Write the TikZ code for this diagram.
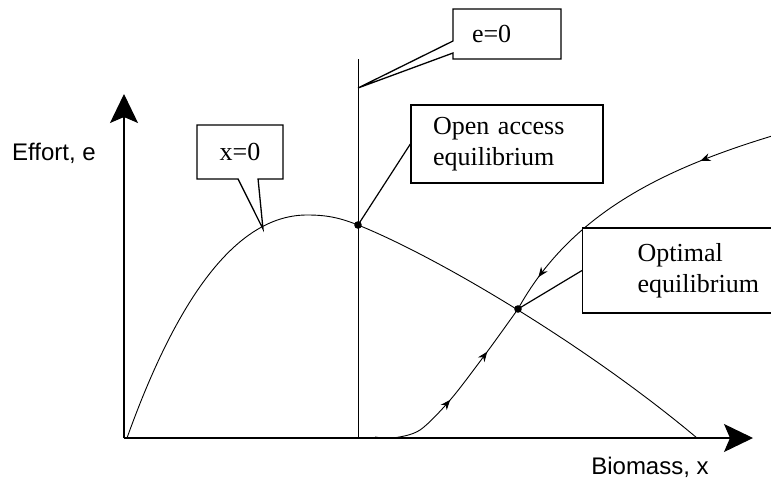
\documentclass[tikz,border=0pt]{standalone}
\usepackage{fontspec}
\setmainfont{Liberation Serif}
\setsansfont{Liberation Sans}
\usetikzlibrary{arrows.meta,shapes.callouts,decorations.markings}
\tikzset{
  axis/.style={line width=1.1pt,-{Stealth[length=29pt,width=28pt,inset=6pt]}},
  curve/.style={line width=0.9pt},
  lead/.style={line width=1.2pt},
  flowtip/.tip={Stealth[length=10pt,width=8pt]},
  flow/.style 2 args={postaction={decorate},decoration={markings,
    mark=at position #1 with {\arrow{flowtip}},
    mark=at position #2 with {\arrow{flowtip}}}},
  note/.style={draw,line width=1.3pt,fill=white,font=\fontsize{26}{31}\selectfont},
  callnote/.style={note,rectangle callout},
  axlabel/.style={font=\sffamily\fontsize{24}{28}\selectfont},
  dot/.style={fill=black},
}
\begin{document}
\begin{tikzpicture}[x=1pt,y=-1pt]
  \useasboundingbox (0,0) rectangle (771,479);
  \clip (0,0) rectangle (771,479);
  \coordinate (o) at (124,438);
  \coordinate (ytop) at (124,94);
  \coordinate (xend) at (753,438);
  \coordinate (etop) at (358,59);
  \coordinate (ebot) at (358,438);
  \coordinate (peak) at (307,215);
  \coordinate (open) at (358,225);
  \coordinate (opt) at (518,309);
  \coordinate (etip) at (358,88);
  \coordinate (xtip) at (263,229);
  % axes
  \draw[axis] (o) -- (ytop);
  \draw[axis] (o) -- (xend);
  \node[axlabel] (effort) at (54,153) {Effort, e};
  \node[axlabel] (biomass) at (650,467) {Biomass, x};
  % isoclines
  \draw[curve] (etop) -- (ebot);
  \draw[curve] (127,438) .. controls (180,290) and (240,215) .. (peak)
    .. controls (325,215) and (338,217) .. (open)
    .. controls (440,258) and (590,348) .. (697,438);
  % saddle path
  \draw[curve,flow={0.44}{0.74}] plot[smooth] coordinates {(375,437) (393,438)
    (420,430) (451,399) (487,352) (opt)};
  \draw[curve,flow={0.24}{0.88}] (772,136) .. controls (660,170) and (570,215) .. (opt);
  \fill[dot] (open) circle (3.8pt);
  \fill[dot] (opt) circle (3.8pt);
  % labels
  \node[callnote,callout absolute pointer={(etip)},callout pointer width=12pt,
    text width=70pt,align=left,inner xsep=19pt,minimum height=50pt] (ezero) at (507,34) {e=0};
  \node[callnote,callout absolute pointer={(xtip)},callout pointer width=20pt,
    minimum width=86pt,minimum height=54pt] (xzero) at (240,152) {x=0};
  \node[note,text width=148pt,align=left,inner xsep=22pt,minimum height=78pt]
    (openbox) at (507,144) {Open access\\equilibrium};
  \draw[lead] (openbox.west) -- (open);
  \node[note,text width=130pt,align=left,inner xsep=55pt,minimum height=85pt,anchor=west]
    (optbox) at (582,270.5) {Optimal\\equilibrium};
  \draw[lead] (optbox.west) -- (opt);
\end{tikzpicture}
\end{document}
